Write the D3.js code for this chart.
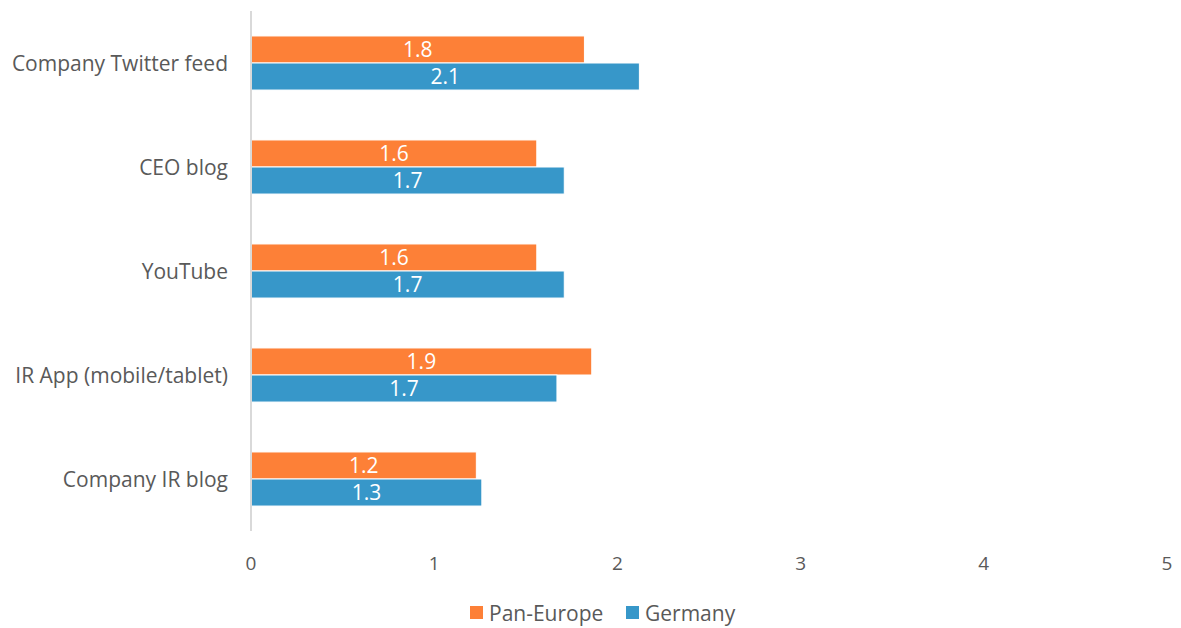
<!DOCTYPE html>
<html>
<head>
<meta charset="utf-8">
<script src="https://cdn.jsdelivr.net/npm/d3@7"></script>
<style>
  body { margin: 0; background: #fff; }
  text { font-family: "Open Sans", "Liberation Sans", sans-serif; }
</style>
</head>
<body>
<svg width="1181" height="628"></svg>
<script>
// categories top to bottom
var categories = ["Company Twitter feed", "CEO blog", "YouTube", "IR App (mobile/tablet)", "Company IR blog"];
var panEurope = [1.82, 1.56, 1.56, 1.86, 1.23];
var germany = [2.12, 1.71, 1.71, 1.67, 1.26];
var seriesNames = ["Pan-Europe", "Germany"];
var seriesColors = ["#FD8037", "#3797C9"];
var xTicks = [0, 1, 2, 3, 4, 5];

var svg = d3.select("svg"),
  width = +svg.attr("width"),
  height = +svg.attr("height");

var x = d3.scaleLinear().domain([0, 5]).range([251, 1167]);

var y = d3
  .scaleBand()
  .domain(categories)
  .range([11, 531])
  .paddingInner(0.48)
  .paddingOuter(0.24);

var ySub = d3.scaleBand().domain(seriesNames).range([0, y.bandwidth()]);

var rows = categories.map((c, i) => ({
  cat: c,
  vals: [
    { s: seriesNames[0], v: panEurope[i] },
    { s: seriesNames[1], v: germany[i] }
  ]
}));

const g = svg.append("g");

// bars
var groups = g
  .selectAll(".grp")
  .data(rows)
  .enter()
  .append("g")
  .attr("transform", (d) => `translate(0,${y(d.cat)})`);

groups
  .selectAll("rect")
  .data((d) => d.vals)
  .enter()
  .append("rect")
  .attr("x", x(0))
  .attr("y", (d) => ySub(d.s))
  .attr("width", (d) => x(d.v) - x(0))
  .attr("height", ySub.bandwidth())
  .attr("fill", (d, i) => seriesColors[i])
  .attr("stroke", "#fff")
  .attr("stroke-width", 1);

// value labels
groups
  .selectAll(".val")
  .data((d) => d.vals)
  .enter()
  .append("text")
  .attr("x", (d) => (x(0) + x(d.v)) / 2)
  .attr("y", (d) => ySub(d.s) + ySub.bandwidth() / 2)
  .attr("dy", "0.36em")
  .attr("text-anchor", "middle")
  .attr("fill", "#fff")
  .attr("font-size", 21)
  .text((d) => d3.format(".1f")(d.v));

// vertical axis line
g.append("line")
  .attr("x1", x(0))
  .attr("x2", x(0))
  .attr("y1", 11)
  .attr("y2", 531)
  .attr("stroke", "#d9d9d9")
  .attr("stroke-width", 2);

// category labels
g.selectAll(".cat")
  .data(categories)
  .enter()
  .append("text")
  .attr("x", 228)
  .attr("y", (d) => y(d) + y.bandwidth() / 2)
  .attr("dy", "0.36em")
  .attr("text-anchor", "end")
  .attr("fill", "#595959")
  .attr("font-size", 21)
  .text((d) => d);

// x tick labels
g.selectAll(".tick")
  .data(xTicks)
  .enter()
  .append("text")
  .attr("x", (d) => x(d))
  .attr("y", 563)
  .attr("dy", "0.36em")
  .attr("text-anchor", "middle")
  .attr("fill", "#595959")
  .attr("font-size", 19)
  .text((d) => d);

// legend
var legendX = [470, 626];
var legend = svg
  .selectAll(".leg")
  .data(seriesNames)
  .enter()
  .append("g")
  .attr("transform", (d, i) => `translate(${legendX[i]},606)`);

legend
  .append("rect")
  .attr("width", 13)
  .attr("height", 13)
  .attr("fill", (d, i) => seriesColors[i]);

legend
  .append("text")
  .attr("x", 19)
  .attr("y", 7)
  .attr("dy", "0.36em")
  .attr("fill", "#595959")
  .attr("font-size", 21)
  .text((d) => d);
</script>
</body>
</html>
